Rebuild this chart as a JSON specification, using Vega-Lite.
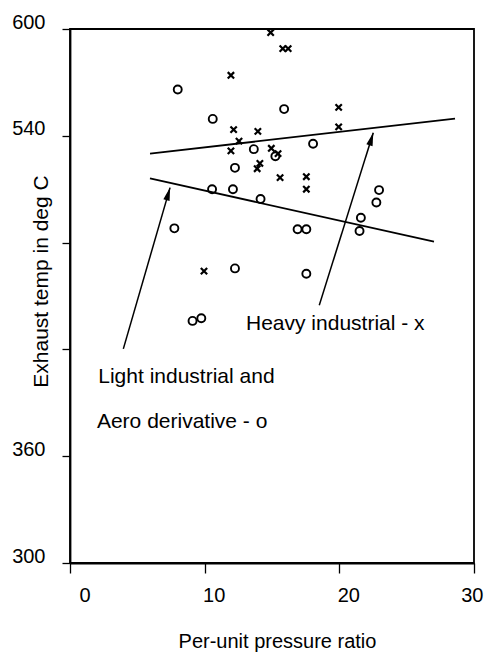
{
  "$schema": "https://vega.github.io/schema/vega-lite/v6.json",
  "width": 404,
  "height": 534,
  "autosize": {"type": "none"},
  "padding": {"left": 70, "top": 29, "right": 28, "bottom": 94},
  "background": "white",
  "config": {
    "view": {"stroke": "black", "strokeWidth": 1.8},
    "font": "Liberation Sans",
    "axis": {
      "grid": false,
      "domainColor": "black",
      "domainWidth": 1.8,
      "tickColor": "black",
      "tickWidth": 1.3,
      "labelColor": "black",
      "labelFont": "Liberation Sans",
      "labelFontSize": 20,
      "titleFont": "Liberation Sans",
      "titleFontSize": 20,
      "titleFontWeight": "normal",
      "titleColor": "black"
    }
  },
  "encoding": {
    "x": {
      "field": "x",
      "type": "quantitative",
      "scale": {"domain": [0, 30], "nice": false, "zero": false},
      "axis": {
        "title": "Per-unit pressure ratio",
        "values": [0, 10, 20, 30],
        "tickSize": 10,
        "labelPadding": 12,
        "labelOffset": 9,
        "labelBaseline": "top",
        "titleX": 207,
        "titleY": 84,
        "titleBaseline": "alphabetic",
        "titleAlign": "center"
      }
    },
    "y": {
      "field": "y",
      "type": "quantitative",
      "scale": {"domain": [300, 600], "nice": false, "zero": false},
      "axis": {
        "title": "Exhaust temp in deg C",
        "titleFontSize": 21,
        "values": [300, 360, 420, 480, 540, 600],
        "labelExpr": "datum.value == 480 || datum.value == 420 ? '' : datum.label",
        "tickSize": 8,
        "labelPadding": 17,
        "labelOffset": -7,
        "titleAngle": -90,
        "titleX": -23,
        "titleY": 252,
        "titleBaseline": "alphabetic",
        "titleAlign": "center"
      }
    }
  },
  "layer": [
    {
      "data": {"values": [
        {"line": "heavy", "x": 5.94, "y": 530.0},
        {"line": "heavy", "x": 28.59, "y": 549.6},
        {"line": "light", "x": 5.94, "y": 516.1},
        {"line": "light", "x": 27.03, "y": 480.5}
      ]},
      "mark": {"type": "line", "color": "black", "strokeWidth": 1.8},
      "encoding": {"detail": {"field": "line"}}
    },
    {
      "data": {"values": [
        {"arrow": "light", "x": 3.96, "y": 420.3},
        {"arrow": "light", "x": 7.43, "y": 510.9},
        {"arrow": "heavy", "x": 18.51, "y": 444.8},
        {"arrow": "heavy", "x": 22.52, "y": 541.7}
      ]},
      "mark": {"type": "line", "color": "black", "strokeWidth": 1.5},
      "encoding": {"detail": {"field": "arrow"}}
    },
    {
      "data": {"values": [{"arrow": "light", "x": 7.43, "y": 510.9}]},
      "mark": {"type": "point", "shape": "M0,0L-0.5,2L0.5,2Z", "filled": true, "color": "black", "opacity": 1, "size": 169, "angle": 16}
    },
    {
      "data": {"values": [{"arrow": "heavy", "x": 22.52, "y": 541.7}]},
      "mark": {"type": "point", "shape": "M0,0L-0.5,2L0.5,2Z", "filled": true, "color": "black", "opacity": 1, "size": 169, "angle": 17}
    },
    {
      "data": {"values": [
        {"x": 8.0, "y": 566}, {"x": 15.9, "y": 555}, {"x": 10.6, "y": 549.5},
        {"x": 13.65, "y": 532.5}, {"x": 15.25, "y": 528.5}, {"x": 18.05, "y": 535.5},
        {"x": 12.25, "y": 522}, {"x": 10.55, "y": 510}, {"x": 12.1, "y": 510},
        {"x": 14.15, "y": 504.5}, {"x": 22.95, "y": 509.5}, {"x": 22.75, "y": 502.5},
        {"x": 21.6, "y": 494}, {"x": 7.75, "y": 488}, {"x": 16.9, "y": 487.5},
        {"x": 17.55, "y": 487.5}, {"x": 21.5, "y": 486.5}, {"x": 12.25, "y": 465.5},
        {"x": 17.55, "y": 462.5}, {"x": 9.1, "y": 436}, {"x": 9.75, "y": 437.5}
      ]},
      "mark": {"type": "point", "shape": "circle", "filled": false, "color": "black", "opacity": 1, "strokeWidth": 1.9, "size": 64}
    },
    {
      "data": {"values": [
        {"x": 14.9, "y": 598}, {"x": 15.8, "y": 589}, {"x": 16.2, "y": 589},
        {"x": 11.95, "y": 574}, {"x": 19.95, "y": 556}, {"x": 19.95, "y": 545},
        {"x": 12.15, "y": 543.5}, {"x": 13.95, "y": 542.5}, {"x": 12.55, "y": 537},
        {"x": 11.95, "y": 531.5}, {"x": 14.95, "y": 533}, {"x": 15.45, "y": 530},
        {"x": 14.1, "y": 524.5}, {"x": 13.9, "y": 521.5}, {"x": 15.6, "y": 516.5},
        {"x": 17.55, "y": 517}, {"x": 17.55, "y": 510}, {"x": 9.95, "y": 464}
      ]},
      "mark": {"type": "point", "shape": "M-1,-1L1,1M-1,1L1,-1", "filled": false, "color": "black", "opacity": 1, "strokeWidth": 2.2, "size": 40}
    },
    {
      "data": {"values": [
        {"label": "Heavy industrial - x", "x": 13.07, "y": 430.9},
        {"label": "Light industrial and", "x": 2.1, "y": 401.1},
        {"label": "Aero derivative - o", "x": 2.0, "y": 375.8}
      ]},
      "mark": {"type": "text", "align": "left", "baseline": "alphabetic", "font": "Liberation Sans", "fontSize": 21, "color": "black"},
      "encoding": {"text": {"field": "label"}}
    }
  ]
}
